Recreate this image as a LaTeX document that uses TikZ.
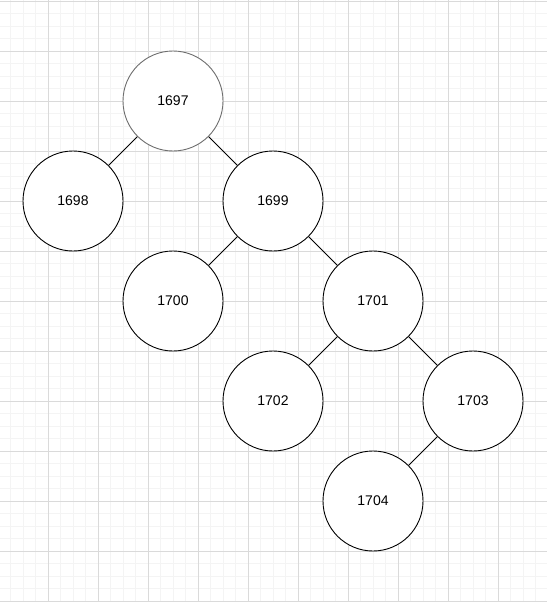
\documentclass[tikz,border=0pt]{standalone}
\usepackage{fontspec}
\setmainfont{Liberation Sans}
\usepackage{tikz}
\definecolor{gridminor}{HTML}{F4F4F4}
\definecolor{gridmajor}{HTML}{DADADA}
\definecolor{rootline}{HTML}{6E6E6E}
\tikzset{
  knoten/.style={circle, draw=black, fill=white, line width=0.9pt,
    minimum size=100pt, inner sep=0pt, font=\fontsize{14}{16}\selectfont},
  wurzel/.style={knoten, draw=rootline},
  kante/.style={line width=0.9pt}
}
\begin{document}
\begin{tikzpicture}[x=1pt,y=-1pt]
 \useasboundingbox (0,0) rectangle (547,602);
 \fill[white] (0,0) rectangle (547,602);

 % Raster
 \foreach \x in {0,...,43}
  \draw[gridminor, line width=0.8pt] ({-2+12.5*\x},0) -- ({-2+12.5*\x},602);
 \foreach \y in {0,...,48}
  \draw[gridminor, line width=0.8pt] (0,{1+12.5*\y}) -- (547,{1+12.5*\y});
 \foreach \x in {-2,48,...,548}
  \draw[gridmajor, line width=0.8pt] (\x,0) -- (\x,602);
 \foreach \y in {1,51,...,601}
  \draw[gridmajor, line width=0.8pt] (0,\y) -- (547,\y);

 % Knoten
 \node[wurzel] (n1697) at (173,101) {1697};
 \node[knoten] (n1698) at (73,201)  {1698};
 \node[knoten] (n1699) at (273,201) {1699};
 \node[knoten] (n1700) at (173,301) {1700};
 \node[knoten] (n1701) at (373,301) {1701};
 \node[knoten] (n1702) at (273,401) {1702};
 \node[knoten] (n1703) at (473,401) {1703};
 \node[knoten] (n1704) at (373,501) {1704};

 % Kanten
 \draw[kante] (n1697) -- (n1698);
 \draw[kante] (n1697) -- (n1699);
 \draw[kante] (n1699) -- (n1700);
 \draw[kante] (n1699) -- (n1701);
 \draw[kante] (n1701) -- (n1702);
 \draw[kante] (n1701) -- (n1703);
 \draw[kante] (n1703) -- (n1704);
\end{tikzpicture}
\end{document}
